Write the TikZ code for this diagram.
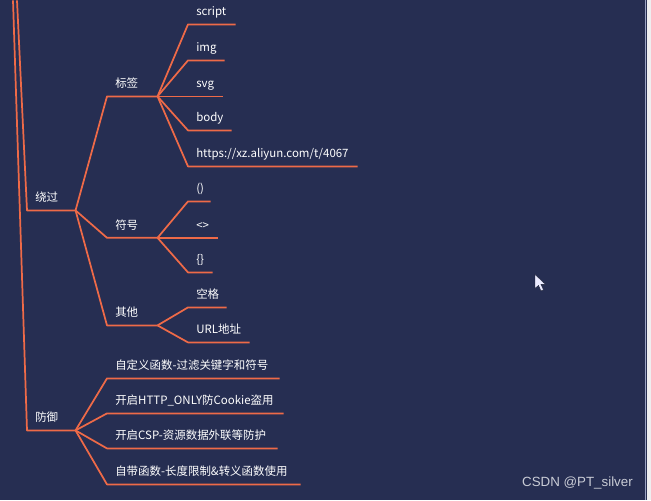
\documentclass[tikz,border=0pt]{standalone}
\usepackage{fontspec}
\newfontfamily\cjk{Noto Sans CJK SC}
\newfontfamily\wmfont{Liberation Sans}
\usepackage{xcolor}
\definecolor{bgnavy}{HTML}{262E52}
\definecolor{branchred}{HTML}{EE6A48}
\definecolor{edgegray}{HTML}{EEEEF0}
\definecolor{edgeblue}{HTML}{9AA2C2}
\definecolor{wmgray}{HTML}{C9CCD6}
\hyphenpenalty=10000
\exhyphenpenalty=10000

\begin{document}
\begin{tikzpicture}[x=0.75pt, y=-0.75pt,
        branch/.style={draw=branchred, line width=1.3pt, line join=round},
        topic/.style={anchor=south west, text width=#1, align=left,
            inner xsep=6pt, inner ysep=4pt, text depth=2.4pt, text=white,
            font=\cjk\fontsize{8.6}{10}\selectfont}]
        % Background
        \fill [bgnavy] (0, 0) rectangle (651, 500);
        \fill [edgegray] (647, 0) rectangle (651, 500);
        \draw [edgeblue, line width=0.6pt] (645.5, 0) -- (645.5, 500);
        \useasboundingbox (0, 0) rectangle (651, 500);
        \clip (0, 0) rectangle (645, 500);
        % Roots
        \coordinate (rootA) at (13, 0);
        \coordinate (rootB) at (17, 0);
        % Topics
        \node [topic=24pt] (raoguo) at (27, 210) {绕过};
        \node [topic=24pt] (fangyu) at (27, 430) {防御};
        \node [topic=25.5pt] (biaoqian) at (107, 96) {标签};
        \node [topic=25.5pt] (fuhao) at (107, 237.4) {符号};
        \node [topic=25.5pt] (qita) at (107, 325) {其他};
        % Leaves
        \node [topic=23.25pt] (script) at (188, 24) {script};
        \node [topic=15pt] (img) at (188, 60) {img};
        \node [topic=13.5pt] (svg) at (188, 96) {svg};
        \node [topic=20.25pt] (body) at (188, 130) {body};
        \node [topic=114.75pt] (url) at (188, 166) {https://xz.aliyun.com/t/4067};
        \node [topic=4.5pt] (paren) at (188, 201) {()};
        \node [topic=9.75pt] (chevron) at (188, 237.4) {<>};
        \node [topic=6pt] (brace) at (188, 272) {\{\}};
        \node [topic=16.5pt] (space) at (188, 307) {空格};
        \node [topic=33.75pt] (urladdr) at (188, 342) {URL地址};
        \node [topic=117pt] (fy1) at (107, 378) {自定义函数-过滤关键字和符号};
        \node [topic=120pt] (fy2) at (107, 413) {开启HTTP\_ONLY防Cookie盗用};
        \node [topic=115.5pt] (fy3) at (107, 448) {开启CSP-资源数据外联等防护};
        \node [topic=132.75pt] (fy4) at (107, 484) {自带函数-长度限制\&转义函数使用};
        % Branches
        \draw [branch] (rootB) -- (raoguo.south west) -- (raoguo.south east);
        \draw [branch] (rootA) -- (fangyu.south west) -- (fangyu.south east);
        \foreach \kid in {biaoqian, fuhao, qita}
            \draw [branch] (raoguo.south east) -- (\kid.south west) -- (\kid.south east);
        \foreach \kid in {script, img, svg, body, url}
            \draw [branch] (biaoqian.south east) -- (\kid.south west) -- (\kid.south east);
        \foreach \kid in {paren, brace}
            \draw [branch] (fuhao.south east) -- (\kid.south west) -- (\kid.south east);
        \draw [branch] (fuhao.south east) -- (chevron.south east);
        \foreach \kid in {space, urladdr}
            \draw [branch] (qita.south east) -- (\kid.south west) -- (\kid.south east);
        \foreach \kid in {fy1, fy2, fy3, fy4}
            \draw [branch] (fangyu.south east) -- (\kid.south west) -- (\kid.south east);
        % Pointer
        \filldraw [fill=white!92!blue, draw=bgnavy!60!black, line width=0.3pt]
            (535, 274) -- (535, 288) -- (538.5, 285) -- (541, 290.5) -- (543.5, 289.5)
            -- (541, 284) -- (545.5, 284) -- cycle;
        % Watermark
        \node [text=wmgray, font=\wmfont\fontsize{10}{12}\selectfont, inner sep=0pt] (mark) at (577.5, 483) {CSDN @PT\_silver};
    \end{tikzpicture}
\end{document}
